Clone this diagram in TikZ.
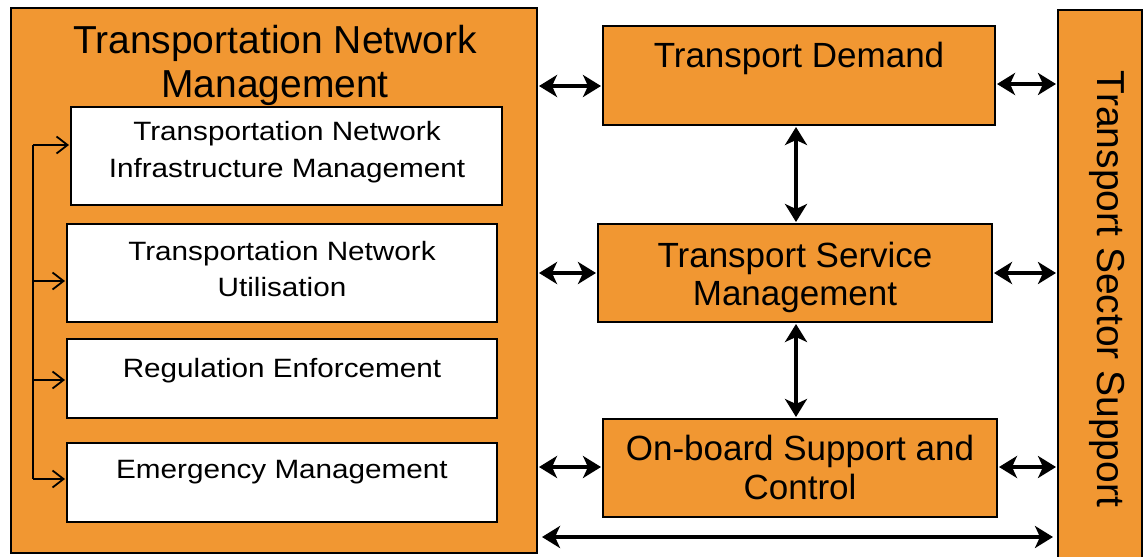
\documentclass[tikz,border=0pt]{standalone}
\usepackage{fontspec}
\setmainfont{Liberation Sans}
\newfontfamily\widefont[FakeStretch=1.12]{Liberation Sans}
\usetikzlibrary{arrows.meta}
\definecolor{orng}{RGB}{241,151,50}
\begin{document}
\begin{tikzpicture}[x=1pt,y=-1pt,
  panel/.style={draw=black,line width=1.8pt,fill=orng,inner sep=0pt,outer sep=0pt},
  wbox/.style={draw=black,line width=1.8pt,fill=white,inner sep=0pt,outer sep=0pt},
  dbl/.style={line width=4.2pt,{Stealth[length=18pt,width=22pt,inset=5pt]}-{Stealth[length=18pt,width=22pt,inset=5pt]},shorten <=2pt,shorten >=2pt},
  thinarr/.style={line width=1.8pt,-{Straight Barb[length=11pt,width=17pt]},shorten >=2pt},
  titlef/.style={font=\fontsize{39}{44}\selectfont,inner sep=0pt},
  midf/.style={font=\fontsize{35}{38}\selectfont,inner sep=0pt},
  whitef/.style={font=\widefont\fontsize{26.5}{36}\selectfont,inner sep=0pt}]
\useasboundingbox (0,0) rectangle (1144,557);
% panels
\node[panel,minimum width=526pt,minimum height=545pt] (lp) at (274,280.5) {};
\node[panel,minimum width=84pt,minimum height=555pt] (rs) at (1100,287.5) {};
\node[panel,minimum width=392pt,minimum height=99pt] (td) at (799,75.5) {};
\node[panel,minimum width=394pt,minimum height=98pt] (tsm) at (795,273) {};
\node[panel,minimum width=394pt,minimum height=98pt] (ob) at (800,468) {};
% white boxes
\node[wbox,minimum width=431pt,minimum height=98pt] (b1) at (286.5,156) {};
\node[wbox,minimum width=430pt,minimum height=98pt] (b2) at (282,273) {};
\node[wbox,minimum width=430pt,minimum height=79pt] (b3) at (282,378.5) {};
\node[wbox,minimum width=430pt,minimum height=79pt] (b4) at (282,482.5) {};
% texts
\node[titlef,anchor=base] (t1) at (275,53) {Transportation Network};
\node[titlef,anchor=base] (t2) at (275,97) {Management};
\node[whitef,anchor=base] (w1a) at (287,140) {Transportation Network};
\node[whitef,anchor=base] (w1b) at (287,177) {Infrastructure Management};
\node[whitef,anchor=base] (w2a) at (282,260) {Transportation Network};
\node[whitef,anchor=base] (w2b) at (282,296) {Utilisation};
\node[whitef,anchor=base] (w3) at (282,377) {Regulation Enforcement};
\node[whitef,anchor=base] (w4) at (282,478) {Emergency Management};
\node[midf,anchor=base] (m1) at (799,67) {Transport Demand};
\node[midf,anchor=base] (m2a) at (795,267) {Transport Service};
\node[midf,anchor=base] (m2b) at (795,305) {Management};
\node[midf,anchor=base] (m3a) at (800,460) {On-board Support and};
\node[midf,anchor=base] (m3b) at (800,499) {Control};
\node[titlef,anchor=base,rotate=-90] (rt) at (1097,289) {Transport Sector Support};
% internal arrows
\coordinate (s1) at (33,145);
\coordinate (s2) at (33,281);
\coordinate (s3) at (33,380);
\coordinate (s4) at (33,479);
\draw[line width=1.8pt] (s1) -- (s4);
\draw[thinarr] (s1) -- (b1.west |- s1);
\draw[thinarr] (s2) -- (b2.west |- s2);
\draw[thinarr] (s3) -- (b3.west |- s3);
\draw[thinarr] (s4) -- (b4.west |- s4);
% double arrows
\coordinate (r1) at (0,86);
\coordinate (r1b) at (0,84);
\coordinate (r3) at (0,467);
\coordinate (r4) at (0,537);
\coordinate (vx) at (796,0);
\draw[dbl] (lp.east |- r1) -- (td.west |- r1);
\draw[dbl] (td.east |- r1b) -- (rs.west |- r1b);
\draw[dbl] (lp.east |- tsm.west) -- (tsm.west);
\draw[dbl] (tsm.east) -- (rs.west |- tsm.east);
\draw[dbl] (lp.east |- r3) -- (ob.west |- r3);
\draw[dbl] (ob.east |- r3) -- (rs.west |- r3);
\draw[dbl] (td.south -| vx) -- (tsm.north -| vx);
\draw[dbl] (tsm.south -| vx) -- (ob.north -| vx);
\draw[dbl,shorten <=5pt,shorten >=5pt] (lp.east |- r4) -- (rs.west |- r4);
\end{tikzpicture}
\end{document}
